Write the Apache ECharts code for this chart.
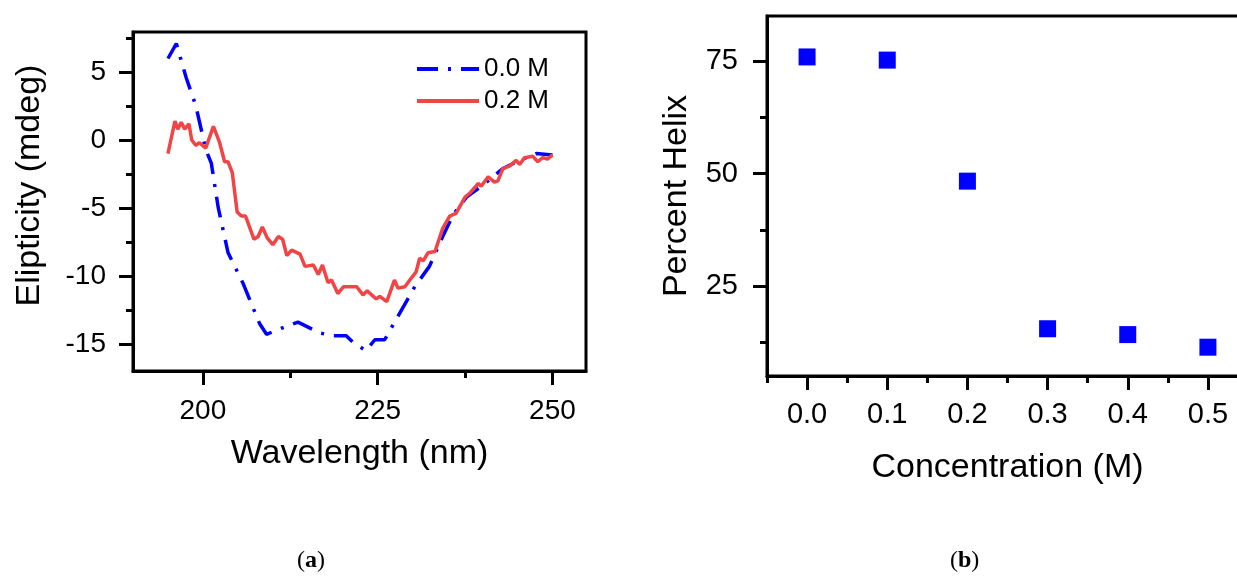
<!DOCTYPE html>
<html>
<head>
<meta charset="utf-8">
<style>
  html, body { margin: 0; padding: 0; background: #fff; }
  #chart { width: 1237px; height: 579px; }
</style>
</head>
<body>
<div id="chart"></div>
<script src="https://cdn.jsdelivr.net/npm/echarts@6/dist/echarts.min.js"></script>
<script>
  // (a) CD spectra, ellipticity vs wavelength
  var wl00 = [195.0, 196.2, 197.6, 199.0, 200.4, 201.2, 202.2, 203.6, 205.7, 208.1,
    209.1, 211.5, 213.6, 216.7, 218.6, 220.5, 221.5, 223.3, 224.6, 226.0,
    228.2, 230.3, 232.4, 234.3, 235.8, 237.7, 240.1, 242.9, 245.3, 247.7, 250.0];
  var ell00 = [6.0, 7.1, 4.6, 2.5, -0.7, -1.7, -5.0, -8.3, -10.5, -13.5,
    -14.3, -13.8, -13.4, -14.2, -14.4, -14.4, -14.9, -15.5, -14.7, -14.7,
    -12.7, -10.8, -9.3, -7.1, -5.5, -4.2, -3.3, -2.1, -1.5, -1.0, -1.1];

  var wl02 = [195.0, 196.0, 196.4, 196.9, 197.4, 198.0, 198.4, 199.0, 199.5, 200.4,
    201.5, 202.4, 203.1, 203.6, 204.2, 204.9, 205.5, 206.1, 207.3, 207.9,
    208.5, 209.2, 210.0, 210.8, 211.4, 212.0, 212.7, 213.9, 214.6, 215.8,
    216.5, 217.1, 217.9, 218.4, 219.3, 220.1, 222.0, 222.9, 223.5, 224.8,
    225.3, 226.3, 227.4, 227.9, 228.9, 229.6, 230.5, 231.0, 231.5, 232.2,
    233.2, 234.3, 235.3, 236.2, 237.5, 238.2, 239.4, 239.8, 240.8, 241.7,
    242.2, 242.9, 243.9, 244.8, 245.3, 246.0, 247.2, 247.9, 248.6, 249.3, 250.0];
  var ell02 = [-1.0, 1.4, 0.8, 1.3, 0.8, 1.2, 0.0, -0.4, -0.2, -0.6,
    1.0, -0.2, -1.6, -1.6, -2.4, -5.3, -5.6, -5.6, -7.3, -7.1,
    -6.4, -7.2, -7.7, -7.1, -7.3, -8.5, -8.1, -8.4, -9.3, -9.2,
    -9.9, -9.2, -10.5, -10.3, -11.3, -10.8, -10.8, -11.4, -11.1, -11.7,
    -11.5, -11.9, -10.3, -10.9, -10.8, -10.3, -9.7, -8.7, -8.9, -8.3,
    -8.2, -6.5, -5.6, -5.4, -4.2, -3.9, -3.2, -3.4, -2.7, -3.1,
    -3.0, -2.1, -1.9, -1.5, -1.8, -1.3, -1.2, -1.6, -1.3, -1.4, -1.1];

  // (b) percent helix vs concentration
  var conc = [0.0, 0.1, 0.2, 0.3, 0.4, 0.5];
  var helix = [75.9, 75.2, 48.3, 15.5, 14.2, 11.4];

  var seriesNames = ['0.0 M', '0.2 M'];

  // tick values
  var wlTicks = [200, 225, 250];
  var wlMinor = [212.5, 237.5];
  var ellTicks = [-15, -10, -5, 0, 5];
  var ellMinor = [-12.5, -7.5, -2.5, 2.5, 7.5];
  var concTicks = [0, 0.1, 0.2, 0.3, 0.4, 0.5];
  var concMinor = [-0.05, 0.05, 0.15, 0.25, 0.35, 0.45, 0.55];
  var helixTicks = [25, 50, 75];
  var helixMinor = [12.5, 37.5, 62.5];

  var App = {};

  App.init = function(){
    var _this = this;
    var FONT = 'Liberation Sans, Arial, sans-serif';
    var SERIF = 'Liberation Serif, serif';

    var pairs = function(xs, ys){
      return xs.map(function(x, i){ return [x, ys[i]]; });
    };

    // main axis: line, long ticks, labels, name
    _this.F_axis = function(o){
      return {
        type: 'value', gridIndex: o.grid, min: o.min, max: o.max, position: o.pos,
        name: o.name, nameLocation: 'middle', nameGap: o.nameGap,
        nameTextStyle: { fontFamily: FONT, fontSize: 34, color: '#000', padding: o.namePad || 0 },
        axisLine: { show: true, onZero: false, lineStyle: { color: '#000', width: 3 } },
        axisTick: { show: true, length: 14, customValues: o.ticks,
          lineStyle: { color: '#000', width: 3 } },
        axisLabel: { customValues: o.ticks, margin: o.margin, fontFamily: FONT,
          fontSize: o.labelSize || 28, color: '#000', formatter: o.fmt },
        splitLine: { show: false }
      };
    };

    // second axis only for the short minor ticks
    _this.F_minor = function(o){
      return {
        type: 'value', gridIndex: o.grid, min: o.min, max: o.max, position: o.pos,
        axisLine: { show: false, onZero: false },
        axisTick: { show: true, length: 7, customValues: o.minor,
          lineStyle: { color: '#000', width: 3 } },
        axisLabel: { show: false },
        splitLine: { show: false }
      };
    };

    var ax = {
      wl: { grid: 0, min: 190, max: 254.8, pos: 'bottom', ticks: wlTicks, minor: wlMinor,
        name: 'Wavelength (nm)', nameGap: 66, margin: 26 },
      ell: { grid: 0, min: -17, max: 7.95, pos: 'left', ticks: ellTicks, minor: ellMinor,
        name: 'Elipticity (mdeg)', nameGap: 86, margin: 27, namePad: [0, 0, 0, 32] },
      conc: { grid: 1, min: -0.05, max: 0.55, pos: 'bottom', ticks: concTicks, minor: concMinor,
        name: 'Concentration (M)', nameGap: 75, margin: 24, labelSize: 29,
        fmt: function(v){ return v.toFixed(1); } },
      hel: { grid: 1, min: 5, max: 85, pos: 'left', ticks: helixTicks, minor: helixMinor,
        name: 'Percent Helix', nameGap: 73, margin: 29, labelSize: 29 }
    };

    var init = function(){
      var chart = echarts.init(document.getElementById('chart'));

      // panel captions, only the letter is bold
      var caption = function(letter, left){
        return {
          text: '{p|(}{b|' + letter + '}{p|)}', left: left, top: 549, padding: 0,
          textStyle: {
            fontFamily: SERIF, fontSize: 24, fontWeight: 'normal', color: '#000',
            rich: {
              p: { fontFamily: SERIF, fontSize: 24, fontWeight: 'normal', color: '#000' },
              b: { fontFamily: SERIF, fontSize: 24, fontWeight: 'bold', color: '#000' }
            }
          }
        };
      };

      var option = {
        animation: false,
        backgroundColor: '#fff',
        title: [caption('a', 297), caption('b', 950)],
        grid: [
          { left: 133, top: 32, width: 453, height: 339, show: true,
            borderColor: '#000', borderWidth: 3, containLabel: false, outerBoundsMode: 'none' },
          { left: 767, top: 16, width: 481, height: 360, show: true,
            borderColor: '#000', borderWidth: 3, containLabel: false, outerBoundsMode: 'none' }
        ],
        legend: {
          data: seriesNames, orient: 'vertical', left: 415, top: 56, padding: 0,
          itemWidth: 62, itemHeight: 14, itemGap: 6,
          itemStyle: { opacity: 0 },
          lineStyle: { width: 4 },
          textStyle: { fontFamily: FONT, fontSize: 26, color: '#000' }
        },
        xAxis: [_this.F_axis(ax.wl), _this.F_minor(ax.wl), _this.F_axis(ax.conc), _this.F_minor(ax.conc)],
        yAxis: [_this.F_axis(ax.ell), _this.F_minor(ax.ell), _this.F_axis(ax.hel), _this.F_minor(ax.hel)],
        series: [
          { type: 'line', name: seriesNames[0], xAxisIndex: 0, yAxisIndex: 0,
            data: pairs(wl00, ell00), symbol: 'none', itemStyle: { color: '#0000FF' },
            lineStyle: { color: '#0000FF', width: 3.5, type: [21, 10, 3, 10] } },
          { type: 'line', name: seriesNames[1], xAxisIndex: 0, yAxisIndex: 0,
            data: pairs(wl02, ell02), symbol: 'none', itemStyle: { color: '#F24444' },
            lineStyle: { color: '#F24444', width: 3.5 } },
          { type: 'scatter', xAxisIndex: 2, yAxisIndex: 2, data: pairs(conc, helix),
            symbol: 'rect', symbolSize: 17, itemStyle: { color: '#0000FF', opacity: 1 } }
        ]
      };

      chart.setOption(option);
    };

    init();
  };

  App.init();
</script>
</body>
</html>
